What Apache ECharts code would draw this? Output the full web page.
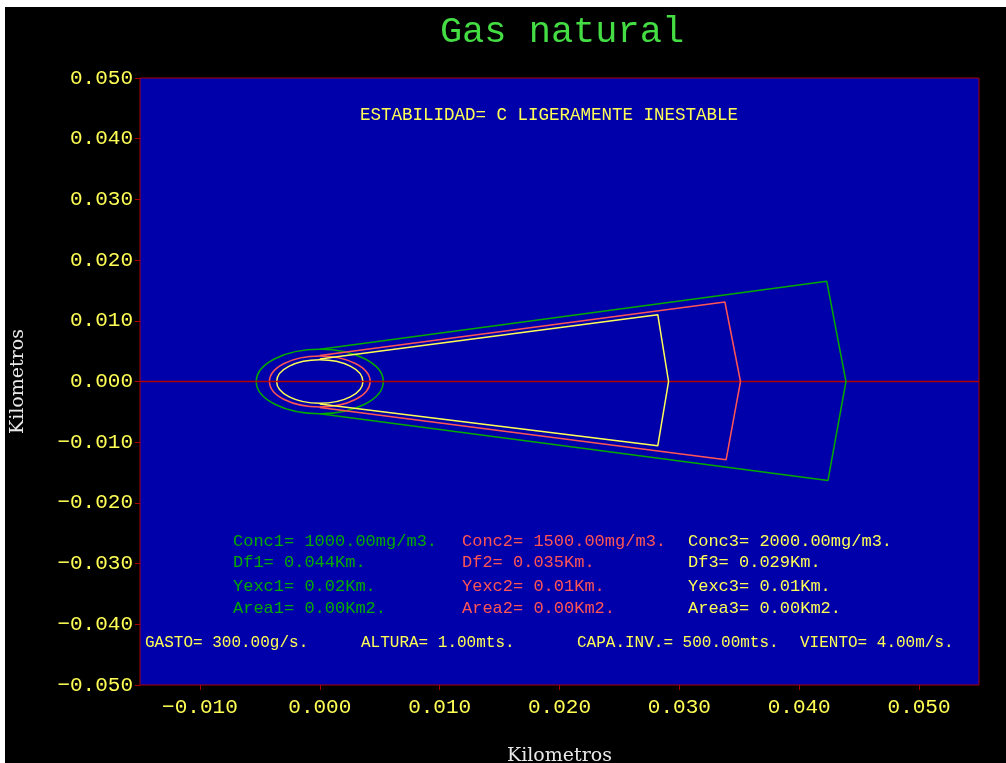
<!DOCTYPE html>
<html>
  <head>
    <meta charset="utf-8" />
    <title>Gas natural</title>
    <script src="https://cdn.jsdelivr.net/npm/echarts@6.0.0/dist/echarts.min.js"></script>
    <style>
      html, body { margin: 0; padding: 0; background: #ffffff; }
      #main { position: absolute; left: 5px; top: 7px; width: 1001px; height: 756px; background: #000000; }
    </style>
  </head>
  <body>
    <div id="main"></div>

    <script type="text/javascript">
      // marcas de los ejes (km)
      const xTicks = [-0.01, 0.0, 0.01, 0.02, 0.03, 0.04, 0.05]
      const yTicks = [-0.05, -0.04, -0.03, -0.02, -0.01, 0.0, 0.01, 0.02, 0.03, 0.04, 0.05]

      // eje del viento (y = 0) de lado a lado
      const lineaCero = [[-0.015, 0.0], [0.055, 0.0]]

      // circulos de la fuente: [x centro, y centro, radio]
      const circulo1 = [0.0, 0.0, 0.0053]
      const circulo2 = [0.0, 0.0, 0.0042]
      const circulo3 = [0.0, 0.0, 0.0036]

      // contorno de cada pluma: inicio sup., esquina sup., punta, esquina inf., inicio inf.
      const pluma1 = [[0.0, 0.0053], [0.0423, 0.0165], [0.0439, 0.0], [0.0424, -0.0163], [0.0, -0.0053]]
      const pluma2 = [[0.0, 0.0043], [0.0338, 0.0131], [0.0351, 0.0], [0.0339, -0.0129], [0.0, -0.0043]]
      const pluma3 = [[0.0, 0.0037], [0.0282, 0.011], [0.0291, 0.0], [0.0282, -0.0106], [0.0, -0.0037]]

      const textos1 = ['Conc1= 1000.00mg/m3.', 'Df1= 0.044Km.', 'Yexc1= 0.02Km.', 'Area1= 0.00Km2.']
      const textos2 = ['Conc2= 1500.00mg/m3.', 'Df2= 0.035Km.', 'Yexc2= 0.01Km.', 'Area2= 0.00Km2.']
      const textos3 = ['Conc3= 2000.00mg/m3.', 'Df3= 0.029Km.', 'Yexc3= 0.01Km.', 'Area3= 0.00Km2.']
      const textosPie = ['GASTO= 300.00g/s.', 'ALTURA= 1.00mts.', 'CAPA.INV.= 500.00mts.', 'VIENTO= 4.00m/s.']

      const VERDE = '#00aa00'
      const ROSA = '#ff5555'
      const AMARILLO = '#ffff55'
      const ROJO = '#aa0000'
      const MONO = 'Liberation Mono, DejaVu Sans Mono, monospace'

      function fmt(v) {
        return v.toFixed(3).replace('-', '\u2212')
      }

      // elipse (circulo en km) dibujada con las escalas de los ejes
      function dibujaCirculo(params, api) {
        const c = api.coord([api.value(0), api.value(1)])
        const r = api.value(2)
        const rx = api.size([r, 0])[0]
        const ry = api.size([0, r])[1]
        return {
          type: 'path',
          shape: {
            pathData: 'M0,1 A1,1 0 1,0 2,1 A1,1 0 1,0 0,1 Z',
            x: c[0] - rx,
            y: c[1] - ry,
            width: rx * 2,
            height: ry * 2,
            layout: 'cover',
          },
          style: { fill: 'none', stroke: api.visual('color'), lineWidth: 1.5 },
        }
      }

      function circulo(datos, color) {
        return {
          type: 'custom',
          renderItem: dibujaCirculo,
          data: [datos],
          itemStyle: { color },
          silent: true,
          z: 3,
        }
      }

      function pluma(datos, color, ancho) {
        return {
          type: 'line',
          data: datos,
          showSymbol: false,
          lineStyle: { color, width: ancho || 1.5 },
          silent: true,
          z: 3,
        }
      }

      // textos dentro del area de trazado (coordenadas del div)
      const graficos = [
        { type: 'text', x: 355, y: 108, style: { text: 'ESTABILIDAD= C LIGERAMENTE INESTABLE', fill: AMARILLO, font: '17.5px ' + MONO, verticalAlign: 'middle' } },
      ]
      const filasY = [534, 555, 579, 601]
      ;[[textos1, VERDE, 228], [textos2, ROSA, 457], [textos3, AMARILLO, 683]].forEach(([textos, color, x]) => {
        textos.forEach((t, i) => {
          graficos.push({ type: 'text', x, y: filasY[i], style: { text: t, fill: color, font: '17px ' + MONO, verticalAlign: 'middle' } })
        })
      })
      const pieX = [140, 356, 572, 795]
      textosPie.forEach((t, i) => {
        graficos.push({ type: 'text', x: pieX[i], y: 636, style: { text: t, fill: AMARILLO, font: '16px ' + MONO, verticalAlign: 'middle' } })
      })

      var myChart = echarts.init(document.getElementById('main'))

      option = {
        backgroundColor: '#000000',
        animation: false,
        title: {
          text: 'Gas natural',
          left: 552,
          top: 2,
          textAlign: 'center',
          textStyle: { color: '#44dd44', fontFamily: MONO, fontSize: 37, fontWeight: 'normal' },
        },
        grid: {
          left: 135,
          top: 71,
          width: 839,
          height: 607,
          outerBoundsMode: 'none',
          containLabel: false,
          show: true,
          backgroundColor: '#0000aa',
          borderColor: ROJO,
          borderWidth: 1,
        },
        xAxis: {
          type: 'value',
          min: -0.015,
          max: 0.055,
          name: 'Kilometros',
          nameLocation: 'middle',
          nameGap: 62,
          nameTextStyle: { color: '#e8e8e8', fontFamily: 'DejaVu Serif', fontSize: 19 },
          axisLine: { show: false, onZero: false },
          splitLine: { show: false },
          axisTick: { show: true, length: 5, lineStyle: { color: ROJO }, customValues: xTicks },
          axisLabel: { customValues: xTicks, formatter: fmt, color: AMARILLO, fontFamily: MONO, fontSize: 21, margin: 12 },
        },
        yAxis: {
          type: 'value',
          min: -0.05,
          max: 0.05,
          name: 'Kilometros',
          nameLocation: 'middle',
          nameGap: 112,
          nameTextStyle: { color: '#e8e8e8', fontFamily: 'DejaVu Serif', fontSize: 19 },
          axisLine: { show: false, onZero: false },
          splitLine: { show: false },
          axisTick: { show: true, length: 5, lineStyle: { color: ROJO }, customValues: yTicks },
          axisLabel: { customValues: yTicks, formatter: fmt, color: AMARILLO, fontFamily: MONO, fontSize: 21, margin: 7 },
        },
        graphic: graficos,
        series: [
          pluma(lineaCero, '#b00000', 1.5),
          pluma(pluma1, VERDE),
          pluma(pluma2, ROSA),
          pluma(pluma3, AMARILLO),
          circulo(circulo1, VERDE),
          circulo(circulo2, ROSA),
          circulo(circulo3, AMARILLO),
        ],
      }

      myChart.setOption(option)
    </script>
  </body>
</html>
